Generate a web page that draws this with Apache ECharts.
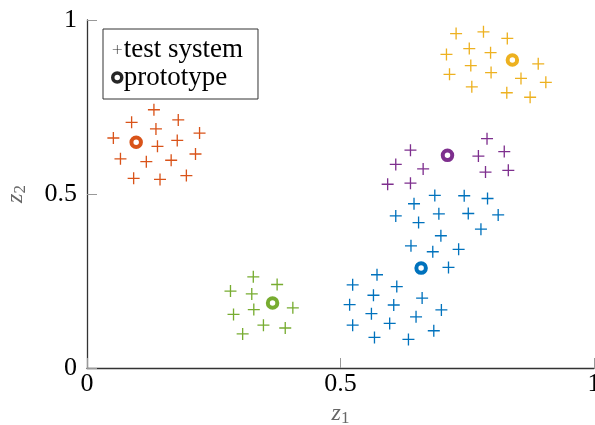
<!DOCTYPE html>
<html>
<head>
<meta charset="utf-8">
<script src="https://cdn.jsdelivr.net/npm/echarts@6/dist/echarts.min.js"></script>
<style>
  html, body { margin: 0; padding: 0; background: #fff; }
  #chart { width: 595px; height: 425px; }
</style>
</head>
<body>
<div id="chart"></div>
<script>
// Test-system samples per cluster, [z1, z2]
const blueTests = [
  [0.686, 0.496], [0.744, 0.495], [0.790, 0.487], [0.645, 0.472], [0.609, 0.437],
  [0.694, 0.443], [0.752, 0.444], [0.811, 0.440], [0.654, 0.418], [0.777, 0.399],
  [0.698, 0.380], [0.639, 0.351], [0.682, 0.334], [0.733, 0.341], [0.713, 0.289],
  [0.572, 0.268], [0.524, 0.239], [0.611, 0.234], [0.565, 0.209], [0.661, 0.201],
  [0.518, 0.182], [0.605, 0.181], [0.699, 0.167], [0.561, 0.156], [0.649, 0.147],
  [0.524, 0.123], [0.597, 0.128], [0.684, 0.107], [0.567, 0.088], [0.634, 0.082]
];
const orangeTests = [
  [0.132, 0.742], [0.088, 0.706], [0.180, 0.713], [0.136, 0.687], [0.052, 0.661],
  [0.222, 0.675], [0.139, 0.637], [0.178, 0.654], [0.066, 0.601], [0.117, 0.593],
  [0.166, 0.597], [0.214, 0.615], [0.092, 0.545], [0.144, 0.542], [0.196, 0.553]
];
const yellowTests = [
  [0.728, 0.961], [0.782, 0.966], [0.829, 0.947], [0.709, 0.901], [0.754, 0.918],
  [0.796, 0.906], [0.890, 0.874], [0.715, 0.844], [0.757, 0.869], [0.797, 0.849],
  [0.856, 0.832], [0.905, 0.821], [0.759, 0.808], [0.828, 0.791], [0.874, 0.778]
];
const purpleTests = [
  [0.789, 0.659], [0.638, 0.626], [0.823, 0.622], [0.772, 0.609], [0.609, 0.585],
  [0.663, 0.572], [0.786, 0.563], [0.831, 0.568], [0.593, 0.528], [0.638, 0.531]
];
const greenTests = [
  [0.328, 0.262], [0.375, 0.240], [0.283, 0.221], [0.325, 0.213], [0.406, 0.173],
  [0.289, 0.154], [0.329, 0.168], [0.348, 0.123], [0.391, 0.115], [0.307, 0.098]
];
// Prototype of each cluster, [z1, z2]
const prototypes = {
  blue:   [0.659, 0.287],
  orange: [0.097, 0.649],
  yellow: [0.839, 0.885],
  purple: [0.711, 0.611],
  green:  [0.366, 0.187]
};
const clusterColors = {
  blue: '#0072BD', orange: '#D95319', yellow: '#EDB120', purple: '#7E2F8E', green: '#77AC30'
};
const clusterTests = {
  blue: blueTests, orange: orangeTests, yellow: yellowTests, purple: purpleTests, green: greenTests
};
const axisTicks = [0, 0.5, 1];

const PLUS = 'path://M-1.1,-10 h2.2 v20 h-2.2z M-10,-1.1 h20 v2.2 h-20z';
const PLUS_THIN = 'path://M-0.7,-10 h1.4 v20 h-1.4z M-10,-0.7 h20 v1.4 h-20z';
const serif = 'Liberation Serif';
const axisDark = '#333';
const tickGray = '#999';
const nameGray = '#666';

const series = [];
Object.keys(clusterTests).forEach(function (k) {
  series.push({
    type: 'scatter',
    name: 'cluster-' + k,
    data: clusterTests[k],
    symbol: PLUS,
    symbolSize: 12,
    itemStyle: { color: clusterColors[k], opacity: 1 },
    silent: true
  });
});
Object.keys(prototypes).forEach(function (k) {
  series.push({
    type: 'scatter',
    name: 'proto-' + k,
    data: [prototypes[k]],
    symbol: 'circle',
    symbolSize: 9.5,
    itemStyle: { color: '#fff', borderColor: clusterColors[k], borderWidth: 4, opacity: 1 },
    z: 3,
    silent: true
  });
});
// Legend-only entries
series.push({
  type: 'scatter', name: 'test system', data: [],
  symbol: PLUS_THIN, itemStyle: { color: '#262626', opacity: 1 }
});
series.push({
  type: 'scatter', name: 'prototype', data: [],
  symbol: 'circle', itemStyle: { color: '#fff', borderColor: '#262626', borderWidth: 3.5, opacity: 1 }
});

function axisName(sub) {
  return {
    text: '{i|z}{s|' + sub + '}',
    rich: {
      i: { fontFamily: serif, fontStyle: 'italic', fontSize: 24, color: nameGray },
      s: { fontFamily: serif, fontSize: 17, color: nameGray, verticalAlign: 'bottom', padding: [10, 0, 0, 0] }
    }
  };
}

const chart = echarts.init(document.getElementById('chart'), null, { renderer: 'canvas' });
chart.setOption({
  animation: false,
  backgroundColor: '#fff',
  grid: { left: 87, right: 1, top: 20, bottom: 57, containLabel: false, outerBoundsMode: 'none' },
  legend: {
    data: [
      { name: 'test system', icon: PLUS_THIN, itemStyle: { color: '#262626', opacity: 1 } },
      { name: 'prototype', icon: 'circle', itemStyle: { color: '#fff', borderColor: '#262626', borderWidth: 3.5, opacity: 1 } }
    ],
    orient: 'vertical',
    left: 103, top: 29,
    padding: [7, 15, 8, 8],
    itemGap: 1,
    itemWidth: 9, itemHeight: 9,
    textStyle: { fontFamily: serif, fontSize: 27, color: '#000', padding: [0, 0, 0, -3] },
    borderColor: '#333', borderWidth: 1,
    backgroundColor: '#fff',
    selectedMode: false
  },
  xAxis: {
    type: 'value', min: 0, max: 1, interval: 0.5,
    axisLine: { show: true, lineStyle: { color: axisDark, width: 1.3 } },
    axisTick: { show: true, inside: true, length: 10, lineStyle: { color: tickGray } },
    splitLine: { show: false },
    axisLabel: {
      fontFamily: serif, fontSize: 26, color: '#000', margin: 3,
      formatter: function (v) { return axisTicks.indexOf(v) >= 0 ? String(v) : ''; }
    },
    name: axisName(1).text,
    nameLocation: 'middle', nameGap: 30,
    nameTextStyle: { rich: axisName(1).rich }
  },
  yAxis: {
    type: 'value', min: 0, max: 1, interval: 0.5,
    axisLine: { show: true, lineStyle: { color: axisDark, width: 1.3 } },
    axisTick: { show: true, inside: true, length: 10, lineStyle: { color: tickGray } },
    splitLine: { show: false },
    axisLabel: {
      fontFamily: serif, fontSize: 26, color: '#000', margin: 10,
      formatter: function (v) { return axisTicks.indexOf(v) >= 0 ? String(v) : ''; }
    },
    name: axisName(2).text,
    nameLocation: 'middle', nameGap: 58, nameRotate: 90,
    nameTextStyle: { rich: axisName(2).rich }
  },
  series: series
});
</script>
</body>
</html>
